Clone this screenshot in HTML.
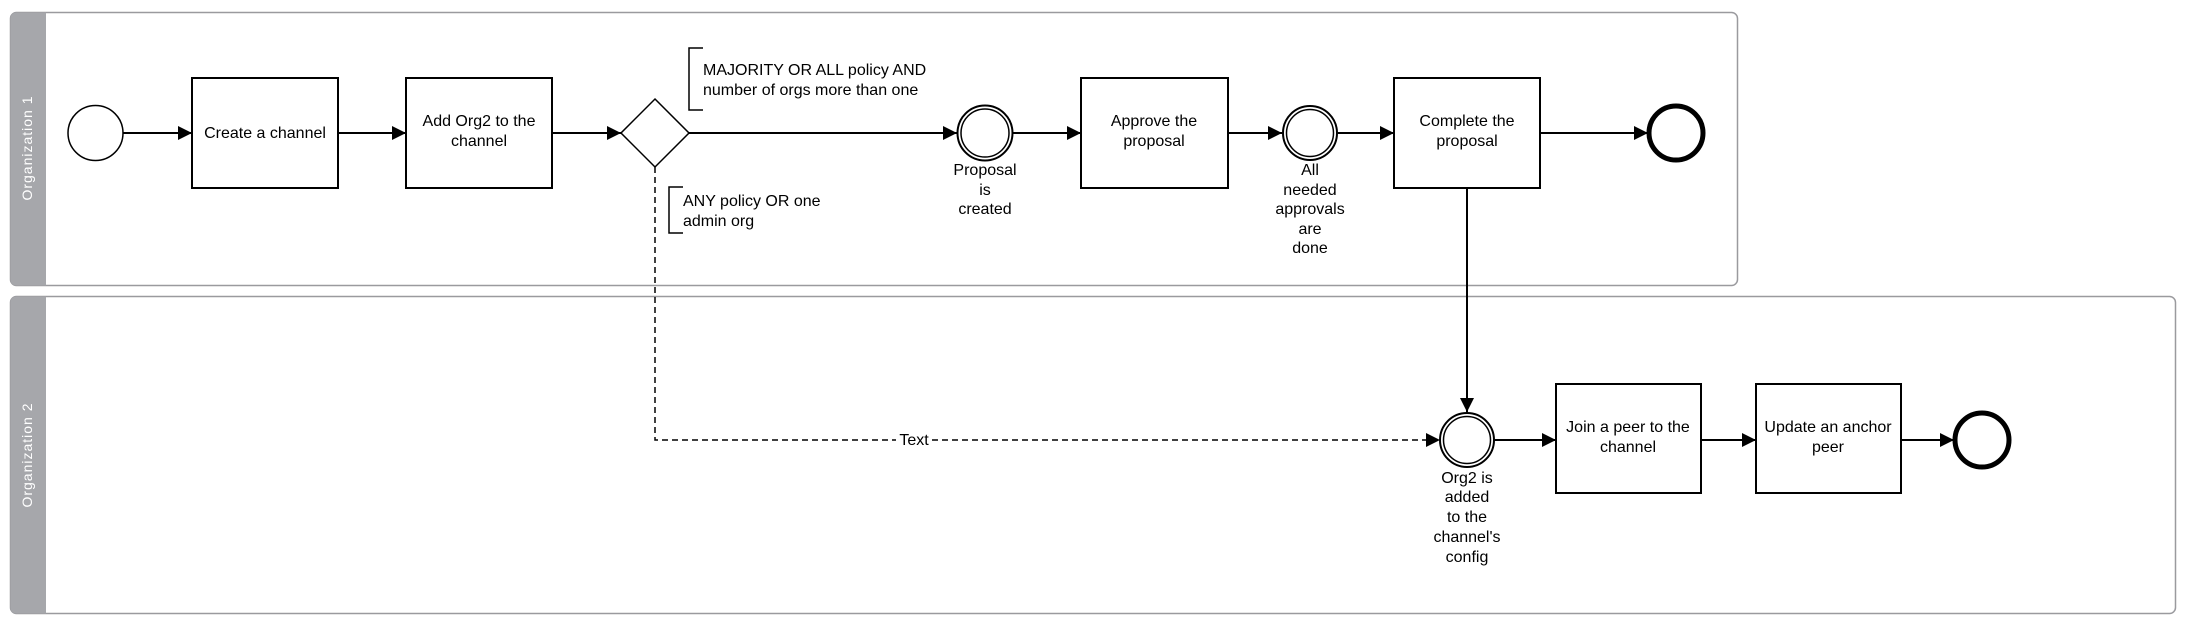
<!DOCTYPE html>
<html><head><meta charset="utf-8"><style>
html,body{margin:0;padding:0;background:#fff;}
svg{display:block;font-family:"Liberation Sans",sans-serif;}
</style></head><body>
<svg width="2194" height="626" viewBox="0 0 2194 626" xmlns="http://www.w3.org/2000/svg">
<defs>
<marker id="a" viewBox="0 0 10 10" refX="10" refY="5" markerWidth="14" markerHeight="14" markerUnits="userSpaceOnUse" orient="auto"><path d="M0,0 L10,5 L0,10 z" fill="#000"/></marker>
</defs>
<!-- lanes -->
<rect x="10.5" y="12.5" width="1727" height="273" rx="6" fill="#fff" stroke="#9a9a9e" stroke-width="1.5"/>
<path d="M46,12.5 H16.5 a6,6 0 0 0 -6,6 V279.5 a6,6 0 0 0 6,6 H46 z" fill="#a6a7ab"/>
<text transform="translate(32,148) rotate(-90)" text-anchor="middle" font-size="14" fill="#fff" letter-spacing="1">Organization  1</text>
<rect x="10.5" y="296.5" width="2165" height="317" rx="6" fill="#fff" stroke="#9a9a9e" stroke-width="1.5"/>
<path d="M46,296.5 H16.5 a6,6 0 0 0 -6,6 V607.5 a6,6 0 0 0 6,6 H46 z" fill="#a6a7ab"/>
<text transform="translate(32,455) rotate(-90)" text-anchor="middle" font-size="14" fill="#fff" letter-spacing="1">Organization  2</text>

<g stroke="#000" stroke-width="2" fill="#fff">
<circle cx="95.5" cy="133" r="27.5" stroke-width="1.5"/>
<rect x="192" y="78" width="146" height="110"/>
<rect x="406" y="78" width="146" height="110"/>
<polygon points="655,99 689,133 655,167 621,133" stroke-width="1.5"/>
<circle cx="985" cy="133" r="27.5"/><circle cx="985" cy="133" r="24" stroke-width="1.5"/>
<rect x="1081" y="78" width="147" height="110"/>
<circle cx="1310" cy="133" r="27"/><circle cx="1310" cy="133" r="23.5" stroke-width="1.5"/>
<rect x="1394" y="78" width="146" height="110"/>
<circle cx="1676" cy="133" r="27" stroke-width="5"/>
<circle cx="1467" cy="440" r="27"/><circle cx="1467" cy="440" r="23.5" stroke-width="1.5"/>
<rect x="1556" y="384" width="145" height="109"/>
<rect x="1756" y="384" width="145" height="109"/>
<circle cx="1982" cy="440" r="27" stroke-width="5"/>
</g>
<g stroke="#000" stroke-width="2" fill="none">
<line x1="123" y1="133" x2="192" y2="133" marker-end="url(#a)"/>
<line x1="338" y1="133" x2="406" y2="133" marker-end="url(#a)"/>
<line x1="552" y1="133" x2="621" y2="133" marker-end="url(#a)"/>
<line x1="689" y1="133" x2="957" y2="133" marker-end="url(#a)"/>
<line x1="1013" y1="133" x2="1081" y2="133" marker-end="url(#a)"/>
<line x1="1228" y1="133" x2="1282" y2="133" marker-end="url(#a)"/>
<line x1="1338" y1="133" x2="1394" y2="133" marker-end="url(#a)"/>
<line x1="1540" y1="133" x2="1648" y2="133" marker-end="url(#a)"/>
<line x1="1467" y1="188" x2="1467" y2="412" marker-end="url(#a)"/>
<line x1="1494" y1="440" x2="1556" y2="440" marker-end="url(#a)"/>
<line x1="1701" y1="440" x2="1756" y2="440" marker-end="url(#a)"/>
<line x1="1901" y1="440" x2="1954" y2="440" marker-end="url(#a)"/>
<path d="M655,167 V440 H1440" stroke-width="1.5" stroke-dasharray="6,4" marker-end="url(#a)"/>
<path d="M703,48 H689 V110 H703" stroke-width="1.5"/>
<path d="M683,187 H669 V233 H683" stroke-width="1.5"/>
</g>
<rect x="896" y="430" width="36" height="20" fill="#fff"/>
<g font-size="16" fill="#000" text-anchor="middle">
<text x="914" y="445">Text</text>
<text x="265" y="138">Create a channel</text>
<text x="479" y="126">Add Org2 to the</text><text x="479" y="146">channel</text>
<text x="1154" y="126">Approve the</text><text x="1154" y="146">proposal</text>
<text x="1467" y="126">Complete the</text><text x="1467" y="146">proposal</text>
<text x="1628" y="432">Join a peer to the</text><text x="1628" y="452">channel</text>
<text x="1828" y="432">Update an anchor</text><text x="1828" y="452">peer</text>
<text x="985" y="175">Proposal</text><text x="985" y="195">is</text><text x="985" y="214">created</text>
<text x="1310" y="175">All</text><text x="1310" y="195">needed</text><text x="1310" y="214">approvals</text><text x="1310" y="234">are</text><text x="1310" y="253">done</text>
<text x="1467" y="483">Org2 is</text><text x="1467" y="502">added</text><text x="1467" y="522">to the</text><text x="1467" y="542">channel's</text><text x="1467" y="562">config</text>
</g>
<g font-size="16" fill="#000">
<text x="703" y="75">MAJORITY OR ALL policy AND</text>
<text x="703" y="95">number of orgs more than one</text>
<text x="683" y="206">ANY policy OR one</text>
<text x="683" y="226">admin org</text>
</g>
</svg>
</body></html>
